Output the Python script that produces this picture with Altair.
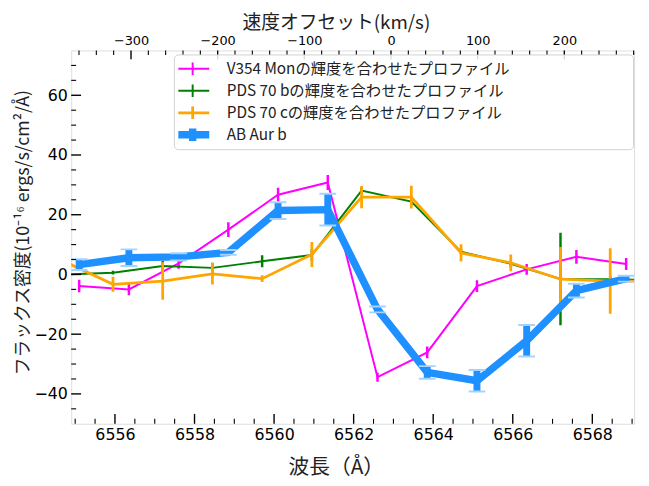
import altair as alt
import pandas as pd

# ---------------- data ----------------
series_names = [
    "V354 Monの輝度を合わせたプロファイル",
    "PDS 70 bの輝度を合わせたプロファイル",
    "PDS 70 cの輝度を合わせたプロファイル",
    "AB Aur b",
]
series_colors = ["#ff00ff", "#008000", "#ffa500", "#1e90ff"]
series_widths = [2.0, 2.0, 2.8, 7.5]

# AB Aur b and V354 Mon share one wavelength grid
wl_ab = [6555.1, 6556.35, 6557.6, 6558.85, 6560.1, 6561.35,
         6562.6, 6563.85, 6565.1, 6566.35, 6567.6, 6568.85]
ab_flux = [3.3, 5.6, 5.9, 7.4, 21.4, 21.7, -11.7, -32.8, -35.6, -22.2, -5.4, -1.4]
ab_err = [1.8, 2.8, 1.2, 0.8, 2.8, 5.3, 1.0, 2.1, 3.6, 5.3, 2.3, 1.0]

v354_flux = [-3.9, -5.0, 3.7, 15.0, 26.7, 30.8, -34.4, -26.1, -3.9, 1.7, 5.9, 3.5]
v354_err = [2.1, 2.0, 1.8, 2.5, 2.3, 2.5, 1.5, 2.0, 2.0, 1.8, 2.3, 2.0]

# PDS 70 b / c share another grid
wl_pds = [6554.7, 6555.95, 6557.2, 6558.45, 6559.7, 6560.95, 6562.2,
          6563.45, 6564.7, 6565.95, 6567.2, 6568.45, 6569.7]
pdsb_flux = [0.0, 0.6, 2.8, 2.2, 4.4, 6.5, 28.1, 24.4, 7.6, 3.6, -1.5, -1.6, -2.0]
pdsb_err = [0.5, 0.6, 1.7, 1.7, 2.0, 2.0, 1.0, 1.2, 1.0, 1.0, 15.5, 1.0, 1.0]
pdsc_flux = [4.5, -3.3, -2.2, 0.2, -1.4, 6.7, 25.9, 25.9, 7.2, 3.9, -1.6, -2.2, -2.3]
pdsc_err = [2.0, 2.5, 6.3, 3.6, 1.1, 4.2, 3.7, 3.8, 2.9, 2.8, 10.8, 11.0, 2.0]

# axes
x_domain = [6554.9, 6569.05]
y_domain = [-50, 75]
v_domain = [-369, 280.5]
x_major = [6556, 6558, 6560, 6562, 6564, 6566, 6568]
x_minor = [6555.0, 6555.5, 6556.5, 6557.0, 6557.5, 6558.5, 6559.0, 6559.5,
           6560.5, 6561.0, 6561.5, 6562.5, 6563.0, 6563.5, 6564.5, 6565.0,
           6565.5, 6566.5, 6567.0, 6567.5, 6568.5, 6569.0]
y_major = [-40, -20, 0, 20, 40, 60]
y_minor = [-45, -35, -30, -25, -15, -10, -5, 5, 10, 15, 25, 30, 35, 45, 50,
           55, 65, 70]
v_major = [-300, -200, -100, 0, 100, 200]
v_minor = [-360, -340, -320, -280, -260, -240, -220, -180, -160, -140, -120,
           -80, -60, -40, -20, 20, 40, 60, 80, 120, 140, 160, 180, 220, 240,
           260, 280]

W, H = 570, 378
JP = "Noto Sans CJK JP"
NUM = "DejaVu Sans"


def frame(wl, flux, err, name):
    return pd.DataFrame({
        "wl": wl,
        "flux": flux,
        "lo": [f - e for f, e in zip(flux, err)],
        "hi": [f + e for f, e in zip(flux, err)],
        "series": name,
    })


df_v354 = frame(wl_ab, v354_flux, v354_err, series_names[0])
df_pdsb = frame(wl_pds, pdsb_flux, pdsb_err, series_names[1])
df_pdsc = frame(wl_pds, pdsc_flux, pdsc_err, series_names[2])
df_ab = frame(wl_ab, ab_flux, ab_err, series_names[3])

xs = alt.Scale(domain=x_domain, nice=False, zero=False)
ys = alt.Scale(domain=y_domain, nice=False, zero=False)
vs = alt.Scale(domain=v_domain, nice=False, zero=False)

pad = "\u2800" * 10
legend = alt.Legend(
    title=None, orient="none", legendX=104, legendY=4,
    symbolType="M-1.6,0L1.6,0M0,-0.6L0,0.6", symbolSize=441,
    symbolFillColor="transparent",
    labelFont=JP, labelFontSize=15.5, labelColor="#222222", labelLimit=0,
    labelExpr=f"datum.label + '{pad}'",
    fillColor="rgba(255,255,255,0.85)", strokeColor="#d0d0d0",
    cornerRadius=4, padding=4.5, rowPadding=2.3, clipHeight=20, labelOffset=20,
)
color_enc = alt.Color("series:N", scale=alt.Scale(domain=series_names, range=series_colors),
                      legend=legend)
sw_enc = alt.StrokeWidth("series:N",
                         scale=alt.Scale(type="ordinal", domain=series_names, range=series_widths),
                         legend=legend)


def xenc():
    return alt.X("wl:Q", scale=xs, axis=None)


def line_layer(df):
    return alt.Chart(df).mark_line(clip=True).encode(
        x=xenc(), y=alt.Y("flux:Q", scale=ys, axis=None),
        color=color_enc, strokeWidth=sw_enc,
    )


def err_layer(df, color, width):
    return alt.Chart(df).mark_rule(clip=True, color=color, strokeWidth=width).encode(
        x=xenc(), y=alt.Y("lo:Q", scale=ys, axis=None), y2="hi:Q",
    )


def cap_layer(df, field):
    return alt.Chart(df).mark_tick(clip=True, orient="horizontal", size=17, thickness=2,
                                   color="#a5d3ff", opacity=1).encode(
        x=xenc(), y=alt.Y(f"{field}:Q", scale=ys, axis=None),
    )


# ---------------- axes, drawn as inward ticks ----------------
bottom_major = alt.Chart(pd.DataFrame({"t": x_major})).mark_rule(
    color="black", strokeWidth=1.4).encode(
    x=alt.X("t:Q", scale=xs, axis=alt.Axis(
        orient="bottom", values=x_major, format="d", ticks=False, domain=False,
        grid=False, labelFont=NUM, labelFontSize=16, labelColor="black",
        labelPadding=3, title="波長（Å）", titleFont=JP, titleFontSize=21,
        titleFontWeight="normal", titleColor="#222222", titlePadding=14,
        titleX=268)),
    y=alt.value(H), y2=alt.value(H - 10),
)
bottom_minor = alt.Chart(pd.DataFrame({"t": x_minor})).mark_rule(
    color="black", strokeWidth=1.1).encode(
    x=alt.X("t:Q", scale=xs, axis=None),
    y=alt.value(H), y2=alt.value(H - 5),
)
left_major = alt.Chart(pd.DataFrame({"t": y_major})).mark_rule(
    color="black", strokeWidth=1.4).encode(
    y=alt.Y("t:Q", scale=ys, axis=alt.Axis(
        orient="left", values=y_major, format="d", ticks=False, domain=False,
        grid=False, labelFont=NUM, labelFontSize=16, labelColor="black",
        labelPadding=4, title="フラックス密度(10⁻¹⁶ ergs/s/cm²/Å)", titleFont=JP,
        titleFontSize=18, titleFontWeight="normal", titleColor="#222222",
        titlePadding=1.5, titleY=184)),
    x=alt.value(0), x2=alt.value(10),
)
left_minor = alt.Chart(pd.DataFrame({"t": y_minor})).mark_rule(
    color="black", strokeWidth=1.1).encode(
    y=alt.Y("t:Q", scale=ys, axis=None),
    x=alt.value(0), x2=alt.value(5),
)
top_major = alt.Chart(pd.DataFrame({"v": v_major})).mark_rule(
    color="black", strokeWidth=1.4).encode(
    x=alt.X("v:Q", scale=vs, axis=alt.Axis(
        orient="top", values=v_major, format="d", ticks=False, domain=False,
        grid=False, labelFont=NUM, labelFontSize=13, labelColor="black",
        labelPadding=3, title="速度オフセット(km/s)", titleFont=JP, titleFontSize=19,
        titleFontWeight="normal", titleColor="#222222", titlePadding=2,
        titleX=268)),
    y=alt.value(0), y2=alt.value(9),
)
top_minor = alt.Chart(pd.DataFrame({"v": v_minor})).mark_rule(
    color="black", strokeWidth=1.1).encode(
    x=alt.X("v:Q", scale=vs, axis=None),
    y=alt.value(0), y2=alt.value(4.5),
)

layers = [
    line_layer(df_v354), err_layer(df_v354, series_colors[0], 2.5),
    line_layer(df_pdsb), err_layer(df_pdsb, series_colors[1], 2.5),
    line_layer(df_pdsc), err_layer(df_pdsc, series_colors[2], 2.8),
    line_layer(df_ab), err_layer(df_ab, series_colors[3], 7),
    cap_layer(df_ab, "lo"), cap_layer(df_ab, "hi"),
    bottom_major, bottom_minor, left_major, left_minor, top_major, top_minor,
]

chart = alt.layer(*layers).resolve_scale(x="independent").resolve_axis(
    y="independent").properties(
    width=W, height=H,
    padding={"left": 64, "top": 40, "right": 7, "bottom": 60},
    autosize=alt.AutoSizeParams(type="none"),
).configure_view(stroke="black", strokeWidth=2).configure(background="white")

chart.save("out.html", embed_options={"renderer": "svg", "actions": False})
